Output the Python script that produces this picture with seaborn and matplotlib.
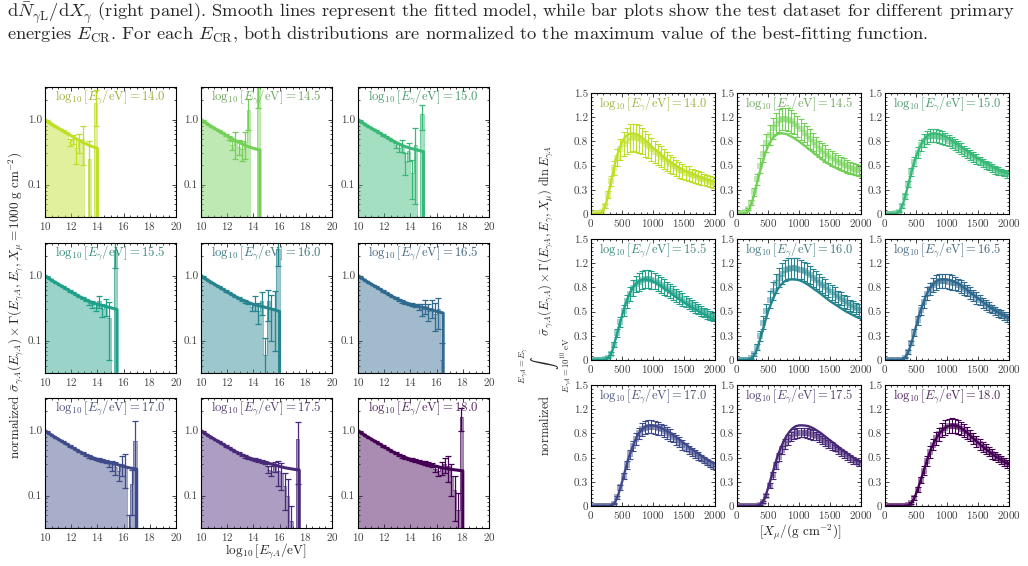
import numpy as np
import matplotlib
matplotlib.use("Agg")
import matplotlib.pyplot as plt
import seaborn as sns
from matplotlib.colors import to_rgb
from matplotlib.ticker import MultipleLocator, FixedLocator, LogLocator, NullFormatter

# ---------------- data ----------------
energy_labels = ["14.0", "14.5", "15.0", "15.5", "16.0", "16.5", "17.0", "17.5", "18.0"]
energies = [14.0, 14.5, 15.0, 15.5, 16.0, 16.5, 17.0, 17.5, 18.0]

# left panel: fitted cross-section x flux curve (log10 E_gammaA grid, step 0.25)
curve_x = np.arange(10.0, 18.01, 0.25)
curve_y = [1.0, 0.92, 0.85, 0.79, 0.74, 0.69, 0.645, 0.60, 0.56, 0.525, 0.49, 0.46, 0.435,
           0.41, 0.39, 0.375, 0.36, 0.35, 0.34, 0.33, 0.32, 0.31, 0.30, 0.29, 0.28, 0.272,
           0.265, 0.26, 0.255, 0.25, 0.247, 0.243, 0.24]

# left panel: test histogram, bins of 0.25 starting at 10
hist_width = 0.25
hist_base = [0.96, 0.885, 0.82, 0.765, 0.715, 0.667, 0.622, 0.58, 0.543, 0.507, 0.475, 0.447,
             0.422, 0.40, 0.382, 0.367, 0.355, 0.345, 0.335, 0.325, 0.315, 0.305, 0.295, 0.285,
             0.276, 0.268, 0.262, 0.257, 0.252, 0.248, 0.245, 0.242]
hist_base_err = [0.01, 0.01, 0.01, 0.01, 0.012, 0.012, 0.012, 0.013, 0.013, 0.014, 0.014, 0.015,
                 0.015, 0.016, 0.016, 0.017, 0.017, 0.018, 0.018, 0.019, 0.019, 0.02, 0.02, 0.021,
                 0.021, 0.022, 0.022, 0.023, 0.023, 0.024, 0.024, 0.025]

# last bins of each histogram (noisy high-energy end)
tail_140_v = [0.45, 0.50, 0.36, 0.45, 0.50, 0.0, 0.25, 0.0, 1.8]
tail_140_e = [0.06, 0.08, 0.15, 0.15, 0.3, 0.0, 0.22, 0.0, 1.0]
tail_145_v = [0.52, 0.40, 0.45, 0.38, 0.35, 0.45, 1.4, 0.0, 0.0, 3.5]
tail_145_e = [0.04, 0.06, 0.2, 0.1, 0.12, 0.2, 0.7, 0.0, 0.0, 2.0]
tail_150_v = [0.40, 0.37, 0.40, 0.22, 0.33, 0.15, 0.40, 0.0, 1.2]
tail_150_e = [0.04, 0.05, 0.08, 0.08, 0.1, 0.09, 0.35, 0.0, 0.5]
tail_155_v = [0.38, 0.36, 0.33, 0.40, 0.30, 0.34, 0.22, 0.0, 2.5]
tail_155_e = [0.03, 0.04, 0.05, 0.08, 0.07, 0.1, 0.17, 0.0, 1.2]
tail_160_v = [0.33, 0.38, 0.28, 0.40, 0.06, 0.40, 0.30, 0.32, 2.6]
tail_160_e = [0.05, 0.1, 0.1, 0.15, 0.05, 0.2, 0.2, 0.25, 1.2]
tail_165_v = [0.33, 0.30, 0.34, 0.28, 0.32, 0.26, 0.30, 0.05]
tail_165_e = [0.04, 0.06, 0.08, 0.08, 0.1, 0.12, 0.15, 0.04]
tail_170_v = [0.30, 0.29, 0.27, 0.24, 0.30, 0.28, 0.03, 0.15, 0.70]
tail_170_e = [0.03, 0.05, 0.06, 0.07, 0.1, 0.15, 0.02, 0.1, 0.7]
tail_175_v = [0.25, 0.24, 0.28, 0.24, 0.22, 0.14, 0.10, 0.04, 0.0, 0.75]
tail_175_e = [0.03, 0.04, 0.05, 0.1, 0.1, 0.08, 0.08, 0.03, 0.0, 0.6]
tail_180_v = [0.26, 0.24, 0.27, 0.30, 0.28, 0.20, 0.12, 0.06, 1.6]
tail_180_e = [0.03, 0.04, 0.06, 0.08, 0.12, 0.1, 0.08, 0.05, 0.6]

# right panel: depth profiles, fit on 0..2000 (step 50), data at bin centres 25..1975
fit_x = np.arange(0, 2001, 50)
dat_x = np.arange(25, 2000, 50)

fit_140 = [0, 0, 0, 0.004, 0.045, 0.15, 0.32, 0.50, 0.67, 0.79, 0.89, 0.955, 0.99, 1.0, 0.995,
           0.985, 0.96, 0.93, 0.90, 0.86, 0.82, 0.79, 0.76, 0.72, 0.69, 0.66, 0.635, 0.61, 0.585,
           0.56, 0.54, 0.525, 0.51, 0.495, 0.475, 0.46, 0.445, 0.435, 0.42, 0.41, 0.40]
dat_140 = [0.01, 0.01, 0.015, 0.03, 0.10, 0.24, 0.41, 0.57, 0.70, 0.80, 0.87, 0.91, 0.94, 0.95,
           0.94, 0.93, 0.90, 0.87, 0.84, 0.80, 0.77, 0.74, 0.71, 0.68, 0.65, 0.62, 0.60, 0.57,
           0.55, 0.53, 0.51, 0.50, 0.48, 0.47, 0.45, 0.44, 0.43, 0.415, 0.40, 0.39]
err_140 = [0, 0, 0, 0, 0.02, 0.04, 0.06, 0.09, 0.11, 0.13, 0.15, 0.16, 0.17, 0.17, 0.17, 0.17,
           0.16, 0.16, 0.15, 0.14, 0.14, 0.13, 0.13, 0.12, 0.12, 0.11, 0.11, 0.10, 0.10, 0.09,
           0.09, 0.09, 0.08, 0.08, 0.08, 0.08, 0.07, 0.07, 0.07, 0.07]

fit_145 = [0, 0, 0, 0.01, 0.06, 0.17, 0.31, 0.47, 0.61, 0.74, 0.84, 0.91, 0.96, 0.99, 1.0, 0.998,
           0.99, 0.97, 0.95, 0.925, 0.90, 0.87, 0.84, 0.81, 0.78, 0.75, 0.72, 0.69, 0.66, 0.635,
           0.61, 0.59, 0.57, 0.55, 0.535, 0.52, 0.505, 0.495, 0.485, 0.475, 0.465]
dat_145 = [0.01, 0.01, 0.02, 0.06, 0.14, 0.27, 0.43, 0.60, 0.75, 0.88, 0.98, 1.06, 1.12, 1.16,
           1.18, 1.18, 1.17, 1.15, 1.12, 1.09, 1.05, 1.01, 0.97, 0.93, 0.89, 0.85, 0.81, 0.78,
           0.75, 0.72, 0.69, 0.67, 0.65, 0.63, 0.61, 0.59, 0.57, 0.56, 0.55, 0.54]
err_145 = [0, 0, 0, 0.01, 0.03, 0.05, 0.07, 0.09, 0.10, 0.11, 0.12, 0.13, 0.13, 0.14, 0.14, 0.14,
           0.14, 0.14, 0.13, 0.13, 0.13, 0.12, 0.12, 0.12, 0.11, 0.11, 0.10, 0.10, 0.10, 0.09,
           0.09, 0.09, 0.08, 0.08, 0.08, 0.08, 0.07, 0.07, 0.07, 0.07]

fit_150 = [0, 0, 0, 0, 0.01, 0.05, 0.15, 0.29, 0.44, 0.59, 0.71, 0.81, 0.89, 0.945, 0.98, 0.997,
           1.0, 0.995, 0.985, 0.97, 0.95, 0.925, 0.90, 0.875, 0.85, 0.82, 0.795, 0.77, 0.74, 0.715,
           0.69, 0.665, 0.64, 0.62, 0.60, 0.58, 0.56, 0.54, 0.525, 0.51, 0.495]
dat_150 = [0, 0, 0.005, 0.01, 0.03, 0.10, 0.22, 0.37, 0.52, 0.65, 0.76, 0.85, 0.91, 0.95, 0.97,
           0.97, 0.97, 0.96, 0.95, 0.93, 0.91, 0.885, 0.86, 0.835, 0.81, 0.785, 0.76, 0.73, 0.705,
           0.68, 0.655, 0.63, 0.61, 0.59, 0.57, 0.55, 0.535, 0.52, 0.505, 0.49]
err_150 = [0, 0, 0, 0, 0.01, 0.02, 0.03, 0.04, 0.05, 0.06, 0.07, 0.07, 0.08, 0.08, 0.08, 0.08,
           0.08, 0.08, 0.08, 0.08, 0.07, 0.07, 0.07, 0.07, 0.07, 0.06, 0.06, 0.06, 0.06, 0.06,
           0.05, 0.05, 0.05, 0.05, 0.05, 0.05, 0.05, 0.04, 0.04, 0.04]

fit_155 = [0, 0, 0, 0, 0, 0.01, 0.045, 0.13, 0.27, 0.41, 0.55, 0.68, 0.78, 0.865, 0.925, 0.965,
           0.99, 1.0, 0.998, 0.99, 0.975, 0.955, 0.93, 0.905, 0.875, 0.85, 0.82, 0.79, 0.765, 0.74,
           0.715, 0.69, 0.665, 0.64, 0.62, 0.595, 0.575, 0.555, 0.535, 0.515, 0.50]
dat_155 = [0, 0, 0, 0.005, 0.01, 0.03, 0.08, 0.19, 0.33, 0.47, 0.61, 0.73, 0.82, 0.89, 0.94, 0.97,
           0.99, 1.0, 1.0, 0.99, 0.975, 0.955, 0.93, 0.905, 0.88, 0.855, 0.83, 0.80, 0.775, 0.75,
           0.725, 0.70, 0.675, 0.65, 0.63, 0.61, 0.59, 0.57, 0.55, 0.53]
err_155 = [0, 0, 0, 0, 0, 0.01, 0.02, 0.03, 0.05, 0.06, 0.07, 0.08, 0.09, 0.10, 0.10, 0.11, 0.11,
           0.11, 0.11, 0.11, 0.10, 0.10, 0.10, 0.10, 0.09, 0.09, 0.09, 0.08, 0.08, 0.08, 0.07,
           0.07, 0.07, 0.07, 0.06, 0.06, 0.06, 0.06, 0.06, 0.05]

fit_160 = [0, 0, 0, 0, 0.006, 0.03, 0.088, 0.20, 0.33, 0.465, 0.60, 0.70, 0.79, 0.87, 0.925,
           0.965, 0.99, 0.998, 1.0, 0.997, 0.99, 0.975, 0.955, 0.93, 0.905, 0.875, 0.85, 0.82,
           0.79, 0.76, 0.73, 0.705, 0.68, 0.655, 0.63, 0.605, 0.585, 0.565, 0.545, 0.525, 0.51]
dat_160 = [0, 0, 0, 0.005, 0.02, 0.07, 0.16, 0.30, 0.46, 0.61, 0.75, 0.86, 0.95, 1.02, 1.07, 1.11,
           1.13, 1.14, 1.14, 1.13, 1.12, 1.10, 1.08, 1.05, 1.02, 0.99, 0.96, 0.93, 0.90, 0.87,
           0.84, 0.81, 0.78, 0.76, 0.73, 0.71, 0.68, 0.66, 0.64, 0.62]
err_160 = [0, 0, 0, 0, 0.01, 0.02, 0.04, 0.06, 0.08, 0.09, 0.10, 0.11, 0.12, 0.12, 0.13, 0.13,
           0.13, 0.13, 0.13, 0.13, 0.12, 0.12, 0.12, 0.11, 0.11, 0.11, 0.10, 0.10, 0.10, 0.09,
           0.09, 0.09, 0.08, 0.08, 0.08, 0.08, 0.07, 0.07, 0.07, 0.07]

fit_165 = [0, 0, 0, 0, 0, 0.001, 0.013, 0.06, 0.15, 0.275, 0.415, 0.56, 0.67, 0.775, 0.86, 0.915,
           0.96, 0.988, 0.998, 1.0, 0.997, 0.99, 0.978, 0.96, 0.94, 0.915, 0.885, 0.855, 0.825,
           0.795, 0.765, 0.735, 0.705, 0.68, 0.65, 0.625, 0.60, 0.58, 0.555, 0.535, 0.515]
dat_165 = [0, 0, 0, 0, 0, 0.005, 0.03, 0.10, 0.21, 0.34, 0.49, 0.62, 0.72, 0.82, 0.88, 0.93, 0.96,
           0.98, 0.98, 0.98, 0.97, 0.96, 0.95, 0.93, 0.91, 0.885, 0.86, 0.83, 0.80, 0.77, 0.74,
           0.71, 0.685, 0.66, 0.635, 0.61, 0.585, 0.565, 0.54, 0.52]
err_165 = [0, 0, 0, 0, 0, 0, 0.01, 0.02, 0.03, 0.04, 0.05, 0.06, 0.07, 0.08, 0.08, 0.09, 0.09,
           0.09, 0.09, 0.09, 0.09, 0.09, 0.08, 0.08, 0.08, 0.08, 0.07, 0.07, 0.07, 0.07, 0.06,
           0.06, 0.06, 0.06, 0.05, 0.05, 0.05, 0.05, 0.05, 0.05]

fit_170 = [0, 0, 0, 0, 0, 0, 0.001, 0.013, 0.065, 0.165, 0.295, 0.44, 0.585, 0.69, 0.79, 0.875,
           0.93, 0.97, 0.992, 1.0, 0.998, 0.99, 0.978, 0.962, 0.942, 0.92, 0.895, 0.87, 0.84,
           0.81, 0.78, 0.75, 0.72, 0.695, 0.665, 0.64, 0.615, 0.59, 0.565, 0.545, 0.525]
dat_170 = [0, 0, 0, 0, 0, 0, 0.005, 0.03, 0.11, 0.23, 0.37, 0.51, 0.64, 0.74, 0.83, 0.90, 0.95,
           0.97, 0.98, 0.98, 0.975, 0.965, 0.95, 0.93, 0.905, 0.88, 0.85, 0.82, 0.79, 0.76, 0.73,
           0.70, 0.67, 0.645, 0.62, 0.595, 0.57, 0.545, 0.52, 0.50]
err_170 = [0, 0, 0, 0, 0, 0, 0, 0.01, 0.02, 0.03, 0.04, 0.05, 0.06, 0.06, 0.07, 0.07, 0.08, 0.08,
           0.08, 0.08, 0.08, 0.08, 0.07, 0.07, 0.07, 0.07, 0.06, 0.06, 0.06, 0.06, 0.05, 0.05,
           0.05, 0.05, 0.05, 0.04, 0.04, 0.04, 0.04, 0.04]

fit_175 = [0, 0, 0, 0, 0, 0, 0, 0.009, 0.04, 0.10, 0.22, 0.35, 0.48, 0.61, 0.71, 0.80, 0.87,
           0.925, 0.965, 0.99, 0.999, 1.0, 0.997, 0.99, 0.975, 0.955, 0.93, 0.905, 0.875, 0.845,
           0.815, 0.785, 0.755, 0.725, 0.695, 0.67, 0.64, 0.615, 0.59, 0.57, 0.55]
dat_175 = [0, 0, 0, 0, 0, 0, 0, 0.01, 0.05, 0.13, 0.25, 0.38, 0.50, 0.61, 0.70, 0.77, 0.82, 0.86,
           0.89, 0.905, 0.91, 0.91, 0.905, 0.895, 0.88, 0.865, 0.845, 0.82, 0.795, 0.77, 0.745,
           0.72, 0.69, 0.665, 0.64, 0.615, 0.59, 0.565, 0.545, 0.525]
err_175 = [0, 0, 0, 0, 0, 0, 0, 0.005, 0.01, 0.02, 0.03, 0.04, 0.04, 0.05, 0.05, 0.06, 0.06,
           0.06, 0.06, 0.06, 0.06, 0.06, 0.06, 0.06, 0.06, 0.05, 0.05, 0.05, 0.05, 0.05, 0.05,
           0.04, 0.04, 0.04, 0.04, 0.04, 0.04, 0.04, 0.03, 0.03]

fit_180 = [0, 0, 0, 0, 0, 0, 0, 0.003, 0.017, 0.065, 0.15, 0.26, 0.38, 0.50, 0.62, 0.72, 0.80,
           0.87, 0.92, 0.96, 0.985, 0.997, 1.0, 0.995, 0.98, 0.955, 0.925, 0.89, 0.855, 0.82,
           0.785, 0.75, 0.72, 0.69, 0.66, 0.63, 0.605, 0.58, 0.555, 0.535, 0.515]
dat_180 = [0, 0, 0, 0, 0, 0, 0, 0.01, 0.04, 0.10, 0.20, 0.32, 0.44, 0.56, 0.67, 0.76, 0.84, 0.89,
           0.94, 0.97, 0.99, 0.995, 0.99, 0.98, 0.96, 0.935, 0.905, 0.87, 0.835, 0.80, 0.765,
           0.735, 0.705, 0.675, 0.645, 0.615, 0.59, 0.565, 0.545, 0.525]
err_180 = [0, 0, 0, 0, 0, 0, 0, 0.005, 0.01, 0.02, 0.03, 0.04, 0.05, 0.06, 0.07, 0.07, 0.08, 0.08,
           0.09, 0.09, 0.09, 0.09, 0.09, 0.09, 0.08, 0.08, 0.08, 0.07, 0.07, 0.07, 0.07, 0.06,
           0.06, 0.06, 0.06, 0.05, 0.05, 0.05, 0.05, 0.05]

right_yticks = [0, 0.3, 0.6, 0.9, 1.2, 1.5]
right_yticklabels = ["0", "0.3", "0.5", "0.8", "1.2", "1.5"]

caption_1 = (r"$\mathrm{d}\bar{N}_{\gamma\mathrm{L}}/\mathrm{d}X_{\gamma}$ (right panel). Smooth lines "
             r"represent the fitted model, while bar plots show the test dataset for different primary")
caption_2 = (r"energies $E_{\mathrm{CR}}$. For each $E_{\mathrm{CR}}$, both distributions are normalized "
             r"to the maximum value of the best-fitting function.")

tails = {14.0: (tail_140_v, tail_140_e), 14.5: (tail_145_v, tail_145_e), 15.0: (tail_150_v, tail_150_e),
         15.5: (tail_155_v, tail_155_e), 16.0: (tail_160_v, tail_160_e), 16.5: (tail_165_v, tail_165_e),
         17.0: (tail_170_v, tail_170_e), 17.5: (tail_175_v, tail_175_e), 18.0: (tail_180_v, tail_180_e)}
profiles = [(fit_140, dat_140, err_140), (fit_145, dat_145, err_145), (fit_150, dat_150, err_150),
            (fit_155, dat_155, err_155), (fit_160, dat_160, err_160), (fit_165, dat_165, err_165),
            (fit_170, dat_170, err_170), (fit_175, dat_175, err_175), (fit_180, dat_180, err_180)]

# ---------------- style ----------------
sns.set_style("ticks")
plt.rcParams.update({
    "font.family": ["cmr10"],
    "mathtext.fontset": "cm",
    "axes.formatter.use_mathtext": True,
    "axes.unicode_minus": False,
    "axes.linewidth": 0.8,
    "axes.edgecolor": "black",
})

W, H = 1028, 566
fig = plt.figure(figsize=(W / 100, H / 100), dpi=100)
colors = [plt.get_cmap("viridis")(v) for v in np.linspace(0.9, 0.0, 9)]


def muted(c, k=0.62):
    # title text: panel colour pulled towards grey
    r, g, b = to_rgb(c)
    return (k * r + (1 - k) * 0.42, k * g + (1 - k) * 0.42, k * b + (1 - k) * 0.42)


def px_axes(x0, top, w, h):
    return fig.add_axes([x0 / W, 1 - (top + h) / H, w / W, h / H])


def style_ticks(ax):
    ax.tick_params(which="both", direction="in", top=True, right=True, width=0.6,
                   labelsize=8, labelcolor="#404040", pad=2)
    ax.tick_params(which="major", length=3)
    ax.tick_params(which="minor", length=1.5)


left_cols = [45, 201, 358]
left_rows = [87, 243, 398]
right_cols = [591, 737, 885]
right_rows = [93, 239, 385]

for i, (E, lab, c) in enumerate(zip(energies, energy_labels, colors)):
    r, col = divmod(i, 3)
    title = r"$\log_{10}[E_\gamma/\mathrm{eV}] = " + lab + "$"

    # ---- left: histogram + fit ----
    ax = px_axes(left_cols[col], left_rows[r], 131, 130)
    n_bins = int(round((E - 10.0) / hist_width))
    vals = list(hist_base[:n_bins])
    errs = list(hist_base_err[:n_bins])
    tv, te = tails[E]
    vals[-len(tv):] = tv
    errs[-len(te):] = te
    vals = np.array(vals)
    errs = np.array(errs)
    edges = 10.0 + hist_width * np.arange(n_bins + 1)
    centers = edges[:-1] + hist_width / 2
    shown = np.clip(vals, 1e-4, None)
    ax.stairs(shown, edges, baseline=1e-4, fill=True, color=c, alpha=0.45, lw=0)
    ax.stairs(shown, edges, baseline=1e-4, fill=False, color=c, alpha=0.6, lw=0.6)
    ok = vals > 0
    ax.errorbar(centers[ok], vals[ok], yerr=errs[ok], fmt="none", ecolor=c, elinewidth=0.9,
                capsize=2.0, capthick=0.9)
    m = curve_x <= E + 1e-9
    xs = np.append(curve_x[m], E)
    ys = np.append(np.array(curve_y)[m], 1e-3)
    sns.lineplot(x=xs, y=ys, ax=ax, color=c, lw=2.2, estimator=None, sort=False, legend=False)
    ax.set_yscale("log")
    ax.set_xlim(10, 20)
    ax.set_ylim(10 ** -1.5, 10 ** 0.5)
    ax.set_xticks([10, 12, 14, 16, 18, 20])
    ax.xaxis.set_minor_locator(MultipleLocator(0.5))
    ax.yaxis.set_major_locator(FixedLocator([0.1, 1.0]))
    ax.set_yticklabels(["0.1", "1.0"])
    ax.yaxis.set_minor_locator(LogLocator(subs=np.arange(2, 10)))
    ax.yaxis.set_minor_formatter(NullFormatter())
    ax.set_xlabel("")
    ax.set_ylabel("")
    style_ticks(ax)
    ax.text(0.5, 0.99, title, transform=ax.transAxes, ha="center", va="top", fontsize=9.2,
            color=muted(c))

    # ---- right: depth profile ----
    fit, dat, err = profiles[i]
    ax = px_axes(right_cols[col], right_rows[r], 124, 121)
    dat = np.array(dat)
    err = np.array(err)
    sns.scatterplot(x=dat_x, y=dat, ax=ax, marker="s", s=20, color=c, alpha=0.45, linewidth=0,
                    legend=False)
    ok = err > 0
    ax.errorbar(dat_x[ok], dat[ok], yerr=err[ok], fmt="none", ecolor=c, elinewidth=0.8,
                capsize=2.2, capthick=0.8)
    sns.lineplot(x=fit_x, y=fit, ax=ax, color=c, lw=1.7, estimator=None, sort=False, legend=False)
    ax.set_xlim(0, 2000)
    ax.set_ylim(0, 1.5)
    ax.set_xticks([0, 500, 1000, 1500, 2000])
    ax.xaxis.set_minor_locator(MultipleLocator(100))
    ax.yaxis.set_major_locator(FixedLocator(right_yticks))
    ax.set_yticklabels(right_yticklabels)
    ax.yaxis.set_minor_locator(MultipleLocator(0.05))
    ax.set_xlabel("")
    ax.set_ylabel("")
    style_ticks(ax)
    ax.text(0.5, 0.99, title, transform=ax.transAxes, ha="center", va="top", fontsize=9,
            color=muted(c))

# ---------------- labels and caption ----------------
fig.text(7 / W, 1 - 18 / H, caption_1, ha="left", va="baseline", fontsize=13.3)
fig.text(7 / W, 1 - 39 / H, caption_2, ha="left", va="baseline", fontsize=13.3)

fig.text(16 / W, 1 - 305 / H,
         r"normalized $\bar{\sigma}_{\gamma A}(E_{\gamma A}) \times \Gamma(E_{\gamma A}, E_\gamma, "
         r"X_\mu = 1000\ \mathrm{g\ cm^{-2}})$",
         rotation=90, ha="center", va="center", fontsize=9.5)
fig.text(266 / W, 1 - 551 / H, r"$\log_{10}[E_{\gamma A}/\mathrm{eV}]$", ha="center", va="center",
         fontsize=9.5)
fig.text(800 / W, 1 - 532 / H, r"$[X_\mu/(\mathrm{g\ cm^{-2}})]$", ha="center", va="center",
         fontsize=9.5)
fig.text(546 / W, 1 - 300 / H,
         r"normalized $\underset{E_{\gamma A}=10^{10}\ \mathrm{eV}}{\overset{E_{\gamma A}=E_\gamma}{\int}}"
         r"\ \bar{\sigma}_{\gamma A}(E_{\gamma A}) \times \Gamma(E_{\gamma A}, E_\gamma, X_\mu)"
         r"\ \mathrm{d}\ln E_{\gamma A}$",
         rotation=90, ha="center", va="center", fontsize=9)

fig.savefig("out.png", dpi=100)
